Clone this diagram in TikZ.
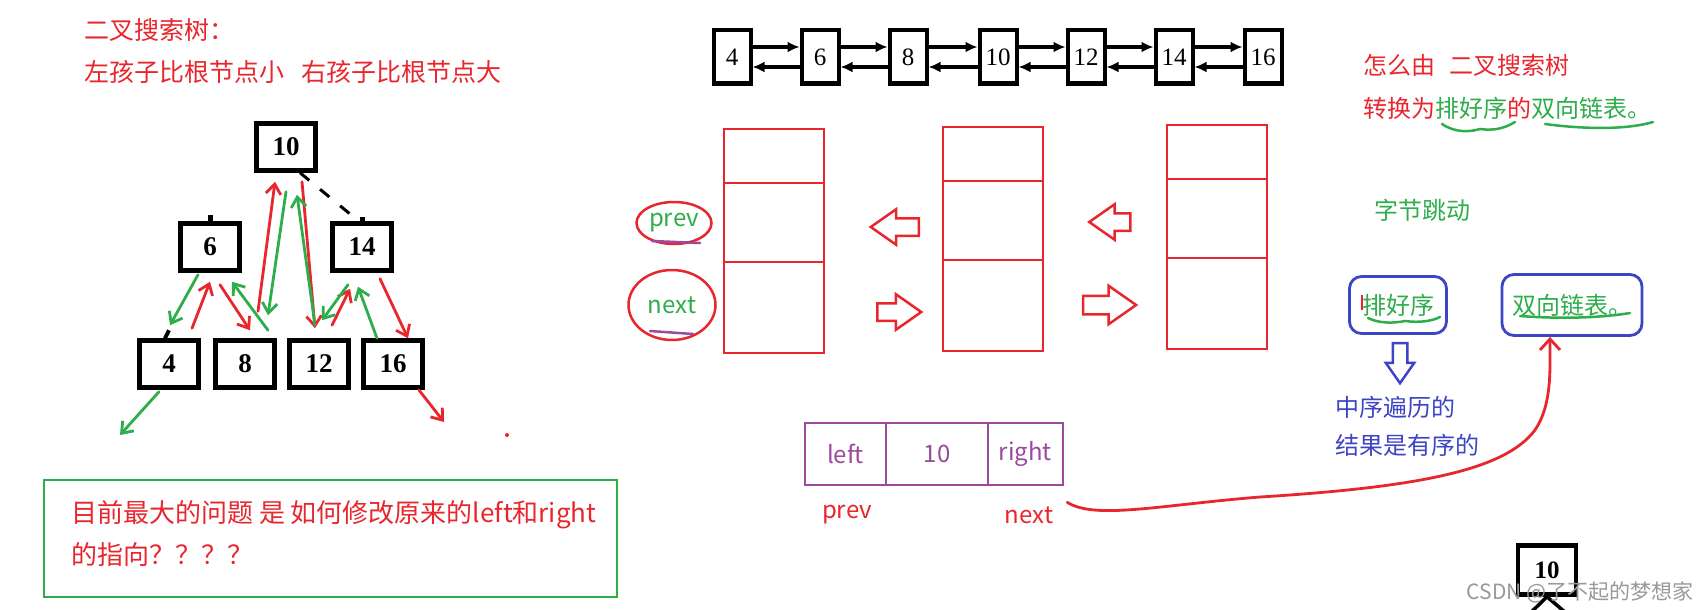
\documentclass[tikz,border=0pt]{standalone}
\usepackage{fontspec}
\setmainfont{Noto Sans CJK SC}
\newfontfamily\numfont{Liberation Serif}
\usetikzlibrary{arrows.meta,positioning,calc,shapes.arrows,shapes.geometric}
\definecolor{cred}{HTML}{E8262D}
\definecolor{cgreen}{HTML}{2EAD4B}
\definecolor{cblue}{HTML}{3D45C4}
\definecolor{cpurple}{HTML}{9B4A9E}
\tikzset{treebox/.style={draw=black,line width=4.5pt,minimum width=59pt,minimum height=47pt,inner sep=0pt,font=\numfont\bfseries\fontsize{27}{27}\selectfont},listbox/.style={draw=black,line width=4pt,minimum width=37pt,minimum height=53pt,inner sep=0pt,font=\numfont\fontsize{25}{25}\selectfont},listarr/.style={-{Latex[length=12pt,width=11pt]},line width=3.2pt},cellcol/.style={draw=cred,line width=2.5pt,minimum width=100pt,minimum height=224pt,inner sep=0pt},cellline/.style={draw=cred,line width=2.5pt},hollowarr/.style={single arrow,draw=cred,line width=2.5pt,single arrow tip angle=70,inner sep=7.5pt,single arrow head extend=9pt},nextarr/.style={-{Straight Barb[length=10pt,width=15pt]},draw=cred,line width=2.8pt,line cap=round},prevarr/.style={nextarr,draw=cgreen},txt/.style={inner sep=0pt,font=\fontsize{24}{24}\selectfont},cellbox/.style={draw=cpurple,line width=2.5pt,minimum height=62pt,inner sep=0pt,text=cpurple,font=\fontsize{24}{24}\selectfont},bluebox/.style={draw=cblue,line width=2.8pt,rounded corners=12pt,inner sep=0pt,text=cgreen,font=\fontsize{24}{24}\selectfont},scrawl/.style={line width=2.5pt,line cap=round}}

\begin{document}
\begin{tikzpicture}[x=1pt,y=-1pt]
\fill[white] (0,0) rectangle (1700,610);
\useasboundingbox (0,0) rectangle (1700,610);
\node[txt,anchor=west,text=cred,font=\fontsize{25}{25}\selectfont] (tt1) at (84,30) {二叉搜索树：};
\node[txt,anchor=west,text=cred,font=\fontsize{25}{25}\selectfont] (tt2) at (84,72) {左孩子比根节点小\hspace{17pt}右孩子比根节点大};
\node[treebox] (n10) at (286,147) {10};
\node[treebox] (n6) at (210,247) {6};
\node[treebox] (n14) at (362,247) {14};
\node[treebox] (n4) at (169,364) {4};
\node[treebox] (n8) at (245,364) {8};
\node[treebox] (n12) at (319,364) {12};
\node[treebox] (n16) at (393,364) {16};
\coordinate (nul4) at (120,435);
\coordinate (nul16) at (444,422);
\draw[line width=3pt,dash pattern=on 12pt off 14pt] ([xshift=14pt]n10.south) -- ([xshift=-8pt,yshift=4pt]n14.north);
\draw[line width=5pt] (n6.north) -- ++(0,-6);
\draw[line width=5pt] (n14.north) -- ++(0,-4);
\draw[line width=4pt] ([xshift=-4pt]n4.north) -- ++(4,-8);
\draw[nextarr] ([xshift=23pt,yshift=10pt]n4.north) -- ([yshift=-9pt]n6.south);
\draw[nextarr] ([xshift=10pt,yshift=-12pt]n6.south) -- ([xshift=5pt,yshift=8pt]n8.north);
\draw[nextarr] ([xshift=13pt,yshift=27pt]n8.north) -- ([xshift=-11pt,yshift=-9pt]n10.south);
\draw[nextarr] ([xshift=16pt,yshift=-9pt]n10.south) -- ([xshift=-4pt,yshift=10pt]n12.north);
\draw[nextarr] ([xshift=13pt,yshift=13pt]n12.north) -- ([xshift=-12pt,yshift=-16pt]n14.south);
\draw[nextarr] ([xshift=18pt,yshift=-6pt]n14.south) -- ([xshift=15pt]n16.north);
\draw[nextarr] ([xshift=-6pt]n16.south east) -- (nul16);
\draw[prevarr] ([xshift=-12pt,yshift=-2pt]n6.south) -- ([xshift=1pt,yshift=13pt]n4.north);
\draw[prevarr] ([xshift=23pt,yshift=8pt]n8.north) -- ([xshift=22pt,yshift=-9pt]n6.south);
\draw[prevarr] ([yshift=-19pt]n10.south) -- ([xshift=23pt,yshift=23pt]n8.north);
\draw[prevarr] ([xshift=-4pt,yshift=13pt]n12.north) -- ([xshift=11pt,yshift=-22pt]n10.south);
\draw[prevarr] ([xshift=-14pt,yshift=-12pt]n14.south) -- ([xshift=3pt,yshift=18pt]n12.north);
\draw[prevarr] ([xshift=-16pt]n16.north) -- ([xshift=-4pt,yshift=-14pt]n14.south);
\draw[prevarr] ([xshift=-10pt,yshift=-2pt]n4.south) -- (nul4);
\fill[cred] (507,435) circle (2);
\node[draw=cgreen,line width=2.8pt,minimum width=573pt,minimum height=117pt] (gbox) at (330.5,538.5) {};
\node[txt,anchor=west,align=left,text=cred,font=\fontsize{26}{42}\selectfont] (qtxt) at (71,534) {目前最大的问题 是 如何修改原来的left和right\\的指向？？？？};
\node[listbox] (l4) at (732,57) {4};
\node[listbox] (l6) at (820,57) {6};
\node[listbox] (l8) at (908,57) {8};
\node[listbox] (l10) at (998,57) {10};
\node[listbox] (l12) at (1086,57) {12};
\node[listbox] (l14) at (1174,57) {14};
\node[listbox] (l16) at (1263,57) {16};
\draw[listarr] ([yshift=10pt]l4.east) -- ([yshift=10pt]l6.west);
\draw[listarr] ([yshift=-10pt]l6.west) -- ([yshift=-10pt]l4.east);
\draw[listarr] ([yshift=10pt]l6.east) -- ([yshift=10pt]l8.west);
\draw[listarr] ([yshift=-10pt]l8.west) -- ([yshift=-10pt]l6.east);
\draw[listarr] ([yshift=10pt]l8.east) -- ([yshift=10pt]l10.west);
\draw[listarr] ([yshift=-10pt]l10.west) -- ([yshift=-10pt]l8.east);
\draw[listarr] ([yshift=10pt]l10.east) -- ([yshift=10pt]l12.west);
\draw[listarr] ([yshift=-10pt]l12.west) -- ([yshift=-10pt]l10.east);
\draw[listarr] ([yshift=10pt]l12.east) -- ([yshift=10pt]l14.west);
\draw[listarr] ([yshift=-10pt]l14.west) -- ([yshift=-10pt]l12.east);
\draw[listarr] ([yshift=10pt]l14.east) -- ([yshift=10pt]l16.west);
\draw[listarr] ([yshift=-10pt]l16.west) -- ([yshift=-10pt]l14.east);
\node[cellcol] (ca) at (774,241) {};
\node[cellcol] (cb) at (993,239) {};
\node[cellcol] (cc) at (1217,237) {};
\draw[cellline] ([yshift=-55pt]ca.north west) -- ([yshift=-55pt]ca.north east);
\draw[cellline] ([yshift=-134pt]ca.north west) -- ([yshift=-134pt]ca.north east);
\draw[cellline] ([yshift=-55pt]cb.north west) -- ([yshift=-55pt]cb.north east);
\draw[cellline] ([yshift=-134pt]cb.north west) -- ([yshift=-134pt]cb.north east);
\draw[cellline] ([yshift=-55pt]cc.north west) -- ([yshift=-55pt]cc.north east);
\draw[cellline] ([yshift=-134pt]cc.north west) -- ([yshift=-134pt]cc.north east);
\node[hollowarr,shape border rotate=180,minimum height=48pt] (hl1) at (901,227) {};
\node[hollowarr,shape border rotate=180,minimum height=41pt] (hl2) at (1116,222) {};
\node[hollowarr,minimum height=44pt] (hr1) at (893,312) {};
\node[hollowarr,minimum height=53pt,inner sep=8pt,single arrow head extend=10pt] (hr2) at (1103,305) {};
\node[ellipse,draw=cred,line width=2.5pt,minimum width=75pt,minimum height=42pt,inner sep=0pt,text=cgreen,font=\fontsize{24}{24}\selectfont] (pv) at (674,223) {prev};
\node[ellipse,draw=cred,line width=2.5pt,minimum width=87pt,minimum height=70pt,inner sep=0pt,text=cgreen,font=\fontsize{24}{24}\selectfont] (nx) at (672,305) {next};
\draw[scrawl,cpurple] ($(pv.center)+(-22,18)$) -- ($(pv.center)+(26,20)$);
\draw[scrawl,cpurple] ($(nx.center)+(-22,26)$) -- ($(nx.center)+(21,29)$);
\node[cellbox,minimum width=81pt] (cl) at (845.5,454) {left};
\node[cellbox,minimum width=102pt] (cv) at (937,454) {10};
\node[cellbox,minimum width=75pt] (cr) at (1025.5,454) {right};
\node[txt,text=cred] (lp) at (847,515) {prev};
\node[txt,text=cred] (ln) at (1029,515) {next};
\node[txt,anchor=west,text=cred] (rt1) at (1363,65) {怎么由\hspace{14pt}二叉搜索树};
\node[txt,anchor=west,text=cred] (rt2) at (1363,108) {转换为\textcolor{cgreen}{排好序}的\textcolor{cgreen}{双向链表。}};
\draw[scrawl,cgreen] (1442,124) .. controls (1455,133) and (1470,132) .. (1480,129) .. controls (1495,131) and (1505,128) .. (1515,122);
\draw[scrawl,cgreen] (1545,124) .. controls (1590,130) and (1630,129) .. (1653,122);
\node[txt,anchor=west,text=cgreen] (zj) at (1374,210) {字节跳动};
\node[bluebox,minimum width=97pt,minimum height=57pt] (bx1) at (1398,305) {排好序};
\node[bluebox,minimum width=140pt,minimum height=61pt] (bx2) at (1572,305) {双向链表。};
\draw[cred,line width=1.5pt] (1362,295) -- (1362,310);
\draw[scrawl,cgreen] (1368,318) .. controls (1380,324) and (1395,323) .. (1405,321) .. controls (1420,323) and (1432,321) .. (1440,317);
\draw[scrawl,cgreen] (1520,316) .. controls (1560,319) and (1600,318) .. (1630,313);
\node[hollowarr,draw=cblue,shape border rotate=270,minimum height=40pt,inner sep=6pt,single arrow head extend=7pt] (bd) at (1400,358) {};
\node[txt,anchor=west,text=cblue] (bt1) at (1335,407) {中序遍历的};
\node[txt,anchor=west,text=cblue] (bt2) at (1335,445) {结果是有序的};
\draw[nextarr,-{Straight Barb[length=11pt,width=20pt]}] ([xshift=14pt,yshift=4pt]ln.north east) .. controls (1095,520) and (1160,505) .. (1260,497) .. controls (1420,487) and (1505,470) .. (1535,430) .. controls (1552,405) and (1550,370) .. ([xshift=-22pt]bx2.south);
\node[treebox,minimum width=58pt,minimum height=49pt,font=\numfont\bfseries\fontsize{25}{25}\selectfont] (m10) at (1547,570) {10};
\coordinate (m10l) at (1518,625);
\coordinate (m10r) at (1580,625);
\draw[line width=3.5pt] (m10.south) -- (m10l);
\draw[line width=3.5pt] (m10.south) -- (m10r);
\node[txt,text=gray!80,font=\fontsize{21}{21}\selectfont] (wm) at (1580,592) {CSDN @了不起的梦想家};
\end{tikzpicture}
\end{document}
